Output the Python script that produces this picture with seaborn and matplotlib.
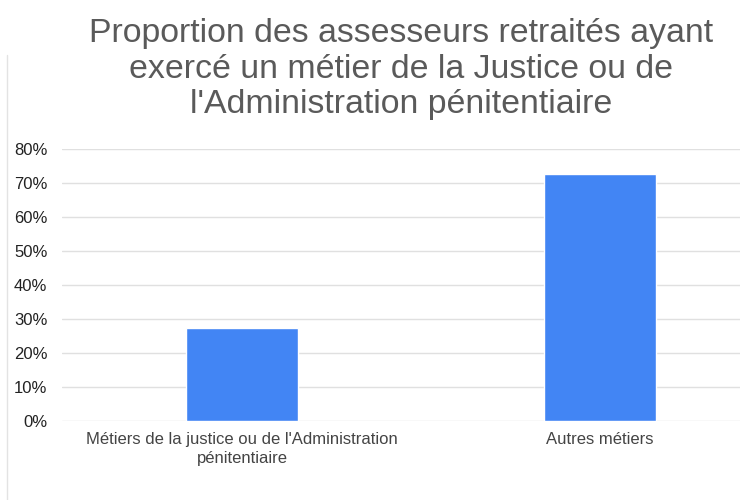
import matplotlib
matplotlib.use("Agg")
import matplotlib.pyplot as plt
import seaborn as sns
import pandas as pd
from matplotlib.lines import Line2D

categories = ["Métiers de la justice ou de l'Administration\npénitentiaire", "Autres métiers"]
values = [27.3, 72.7]
y_ticks = [0, 10, 20, 30, 40, 50, 60, 70, 80]
title = "Proportion des assesseurs retraités ayant\nexercé un métier de la Justice ou de\nl'Administration pénitentiaire"

sns.set_style("white")
plt.rcParams["font.family"] = ["Liberation Sans", "DejaVu Sans"]

df = pd.DataFrame({"cat": categories, "val": values})

fig = plt.figure(figsize=(7.4, 5), dpi=100)
ax = fig.add_axes([62 / 740, 1 - 421 / 500, 1 - 62 / 740, (421 - 149) / 500])

sns.barplot(data=df, x="cat", y="val", color="#4285F4", saturation=1,
            width=0.313, ax=ax, zorder=3)

ax.set_xlim(-0.503, 1.391)
ax.set_ylim(0, 80)
ax.set_yticks(y_ticks)
ax.set_yticklabels([f"{t}%" for t in y_ticks])
ax.yaxis.grid(True, color="#e0e0e0", linewidth=1, zorder=0)
ax.set_axisbelow(True)
for s in ax.spines.values():
    s.set_visible(False)
ax.set_xlabel("")
ax.set_ylabel("")
ax.tick_params(axis="y", length=0, pad=10.5, labelsize=12, labelcolor="#222222")
ax.tick_params(axis="x", length=0, pad=8, labelsize=12, labelcolor="#444444")
for lbl in ax.get_xticklabels():
    lbl.set_linespacing(1.3)

fig.text(401 / 740, 1 - 69 / 500, title, ha="center", va="center",
         fontsize=24.4, color="#5a5a5a", linespacing=1.2)

# faint vertical edge line from the screenshot
fig.add_artist(Line2D([7 / 740, 7 / 740], [0, 1 - 55 / 500], color="#e3e3e3", linewidth=1))

fig.savefig("out.png", dpi=100)
